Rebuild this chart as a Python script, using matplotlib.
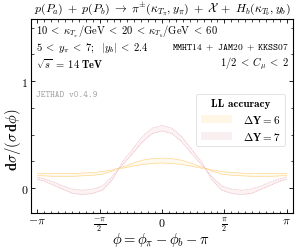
import numpy as np
import matplotlib.pyplot as plt
from matplotlib.ticker import MultipleLocator, FixedLocator
from matplotlib.patches import Patch

plt.rcParams['mathtext.fontset'] = 'cm'
plt.rcParams['font.family'] = 'serif'
plt.rcParams['font.serif'] = ['cmr10', 'DejaVu Serif']
plt.rcParams['axes.unicode_minus'] = False

# Data
phi = [-np.pi, -3.0, -2.75, -2.5, -2.25, -2.0, -1.75, -1.5, -1.25, -1.08, -1.0, -0.75, -0.5, -0.25, 0.0,
       0.25, 0.5, 0.75, 1.0, 1.08, 1.25, 1.5, 1.75, 2.0, 2.25, 2.5, 2.75, 3.0, np.pi]

dy6_hi = [0.135, 0.135, 0.135, 0.135, 0.135, 0.14, 0.145, 0.155, 0.17, 0.187, 0.195, 0.23, 0.26, 0.275, 0.28,
          0.275, 0.26, 0.23, 0.195, 0.187, 0.17, 0.155, 0.145, 0.14, 0.135, 0.135, 0.135, 0.135, 0.135]
dy6_lo = [0.115, 0.115, 0.11, 0.11, 0.11, 0.115, 0.12, 0.13, 0.16, 0.187, 0.185, 0.205, 0.22, 0.23, 0.235,
          0.23, 0.22, 0.205, 0.185, 0.187, 0.16, 0.13, 0.12, 0.115, 0.11, 0.11, 0.11, 0.115, 0.115]

dy7_hi = [0.10, 0.09, 0.06, 0.02, -0.01, -0.02, -0.01, 0.02, 0.11, 0.187, 0.245, 0.36, 0.48, 0.56, 0.585,
          0.56, 0.48, 0.36, 0.245, 0.187, 0.11, 0.02, -0.01, -0.02, -0.01, 0.02, 0.06, 0.09, 0.10]
dy7_lo = [0.08, 0.07, 0.03, -0.01, -0.05, -0.06, -0.05, -0.02, 0.08, 0.187, 0.215, 0.32, 0.43, 0.51, 0.535,
          0.51, 0.43, 0.32, 0.215, 0.187, 0.08, -0.02, -0.05, -0.06, -0.05, -0.01, 0.03, 0.07, 0.08]

fig = plt.figure(figsize=(3.04, 2.51), dpi=100)
ax = fig.add_axes([0.102, 0.147, 0.862, 0.773])

# bands
ax.fill_between(phi, dy6_lo, dy6_hi, color='#fffaf0', lw=0)
ax.plot(phi, dy6_hi, color='#ffd68c', lw=0.5)
ax.plot(phi, dy6_lo, color='#ffd68c', lw=0.5)
ax.fill_between(phi, dy7_lo, dy7_hi, color='#fcf3f5', lw=0)
ax.plot(phi, dy7_hi, color='#ebb3bd', lw=0.5, ls=(0, (1.5, 1)))
ax.plot(phi, dy7_lo, color='#ebb3bd', lw=0.5, ls=(0, (1.5, 1)))

ax.set_xlim(-3.3, 3.3)
ax.set_ylim(-0.234, 1.58)

ax.xaxis.set_major_locator(FixedLocator([-np.pi, -np.pi/2, 0, np.pi/2, np.pi]))
ax.set_xticklabels([r'$-\pi$', r'$\frac{-\pi}{2}$', r'$0$', r'$\frac{\pi}{2}$', r'$\pi$'], fontsize=8.5)
ax.xaxis.set_minor_locator(MultipleLocator(np.pi/18))
ax.yaxis.set_major_locator(FixedLocator([0, 1]))
ax.set_yticklabels([r'$0$', r'$1$'], fontsize=8.5)
ax.yaxis.set_minor_locator(MultipleLocator(0.25))
ax.tick_params(which='both', direction='in', top=True, right=True, pad=2)
ax.tick_params(which='major', length=3, width=0.6)
ax.tick_params(which='minor', length=1.8, width=0.5)
for s in ax.spines.values():
    s.set_linewidth(0.8)

# axis labels
fig.text(0.53, 0.045, r'$\phi = \phi_\pi - \phi_b - \pi$', fontsize=10.5, ha='center', va='center')
fig.text(0.042, 0.445, r'$\mathbf{d}\sigma/(\sigma\,\mathbf{d}\phi)$', fontsize=10.5,
         rotation=90, ha='center', va='center')

fig.text(0.533, 0.962, r'$p(P_a)\;+\;p(P_b)\;\rightarrow\;\pi^{\pm}(\kappa_{T_\pi}, y_\pi)\;+\;\mathcal{X}\;+\;H_b(\kappa_{T_b}, y_b)$',
         ha='center', va='center', fontsize=8.6)

ax.text(0.02, 0.943, r'$10\;<\;\kappa_{T_\pi}/\mathrm{GeV}\;<\;20\;<\;\kappa_{T_b}/\mathrm{GeV}\;<\;60$',
        transform=ax.transAxes, fontsize=7.6, va='center')
ax.text(0.02, 0.856, r'$5\;<\;y_\pi\;<\;7;\ \ |y_b|\;<\;2.4$',
        transform=ax.transAxes, fontsize=7.6, va='center')
ax.text(0.985, 0.856, r'$\mathtt{MMHT14}\ +\ \mathtt{JAM20}\ +\ \mathtt{KKSS07}$',
        transform=ax.transAxes, fontsize=6.8, va='center', ha='right')
ax.text(0.02, 0.773, r'$\sqrt{s}\;\mathbf{=\;14\ TeV}$',
        transform=ax.transAxes, fontsize=7.6, va='center')
ax.text(0.985, 0.773, r'$1/2\;<\;C_\mu\;<\;2$',
        transform=ax.transAxes, fontsize=7.6, va='center', ha='right')
ax.text(0.02, 0.613, 'JETHAD v0.4.9', fontname='cmtt10', color='#a0a0a0',
        transform=ax.transAxes, fontsize=6.5, va='center')

handles = [Patch(facecolor='#fff6e6', edgecolor='none'),
           Patch(facecolor='#f9eef0', edgecolor='none')]
leg = ax.legend(handles, [r'$\mathbf{\Delta Y = 6}$', r'$\mathbf{\Delta Y = 7}$'],
                title='LL accuracy', loc='lower right', bbox_to_anchor=(0.99, 0.315),
                fontsize=8, title_fontproperties={'family': 'cmb10', 'size': 8},
                frameon=True, fancybox=True, framealpha=1, edgecolor='#dddddd',
                handlelength=2.8, handletextpad=1.0, borderpad=0.4, labelspacing=0.45)
leg.get_frame().set_linewidth(0.6)

plt.savefig('out.png', dpi=100)
